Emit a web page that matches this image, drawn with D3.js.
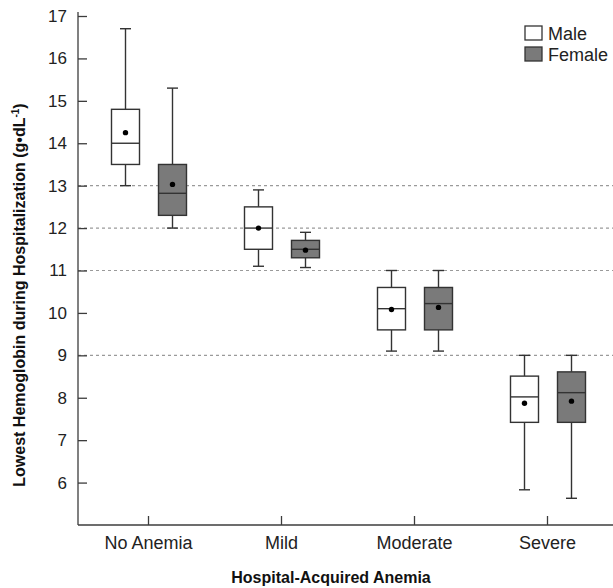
<!DOCTYPE html>
<html>
<head>
<meta charset="utf-8">
<script src="https://cdn.jsdelivr.net/npm/d3@7"></script>
<style>
  body { margin: 0; background: #fff; }
  svg { display: block; font-family: "Liberation Sans", Arial, sans-serif; }
</style>
</head>
<body>
<svg id="chart" width="613" height="588"></svg>
<script>
// ---- Data ----
const categories = ["No Anemia", "Mild", "Moderate", "Severe"];
const groups = ["Male", "Female"];
const yTicks = [6, 7, 8, 9, 10, 11, 12, 13, 14, 15, 16, 17];
const gridValues = [9, 11, 12, 13];

// per category: [whiskerLow, q1, median, q3, whiskerHigh, mean]
const maleStats = [
  [13.0, 13.5, 14.0, 14.8, 16.7, 14.25],
  [11.1, 11.5, 12.0, 12.5, 12.9, 12.0],
  [9.1, 9.6, 10.1, 10.6, 11.0, 10.08],
  [5.83, 7.42, 8.02, 8.51, 9.0, 7.87]
];
const femaleStats = [
  [12.0, 12.3, 12.82, 13.5, 15.3, 13.03],
  [11.07, 11.3, 11.5, 11.71, 11.9, 11.48],
  [9.1, 9.6, 10.22, 10.6, 11.0, 10.13],
  [5.63, 7.42, 8.12, 8.61, 9.0, 7.92]
];
const groupFill = ["#ffffff", "#7a7a7a"];

// ---- Layout ----
const svg = d3.select("#chart");
const axisLeftX = 78, axisBottomY = 525, plotRight = 613, plotTop = 16;

const x = d3.scaleBand().domain(categories).range([82, 614]);
const xg = d3.scalePoint().domain(groups).range([-23, 23]);
const y = d3.scaleLinear().domain([5, 17]).range([axisBottomY, plotTop]);

const axisColor = "#3c3c3c";
const boxW = 28, capW = 11;

// gridlines
svg.append("g").selectAll("line").data(gridValues).join("line")
  .attr("x1", axisLeftX).attr("x2", plotRight)
  .attr("y1", d => y(d)).attr("y2", d => y(d))
  .attr("stroke", "#9a9a9a").attr("stroke-width", 1.1)
  .attr("stroke-dasharray", "3,3");

// y axis
const yAxis = svg.append("g").attr("transform", `translate(${axisLeftX},0)`)
  .call(d3.axisLeft(y).tickValues(yTicks).tickSizeInner(-9).tickSizeOuter(0).tickPadding(11));
yAxis.select(".domain").remove();
yAxis.append("line").attr("x1", 0).attr("x2", 0).attr("y1", plotTop - 4).attr("y2", axisBottomY)
  .attr("stroke", axisColor).attr("stroke-width", 1.3);
yAxis.selectAll(".tick line").attr("stroke", axisColor).attr("stroke-width", 1.3);
yAxis.selectAll(".tick text").attr("font-size", 17).attr("fill", "#222")
  .attr("font-family", "Liberation Sans, Arial, sans-serif");

// x axis
const xAxis = svg.append("g").attr("transform", `translate(0,${axisBottomY})`)
  .call(d3.axisBottom(x).tickSizeInner(-9).tickSizeOuter(0).tickPadding(14));
xAxis.select(".domain").remove();
xAxis.append("line").attr("x1", axisLeftX).attr("x2", plotRight).attr("y1", 0).attr("y2", 0)
  .attr("stroke", axisColor).attr("stroke-width", 1.3);
xAxis.selectAll(".tick line").attr("stroke", axisColor).attr("stroke-width", 1.3);
xAxis.selectAll(".tick text").attr("font-size", 18).attr("fill", "#222")
  .attr("font-family", "Liberation Sans, Arial, sans-serif")
  .attr("dy", null).attr("y", 24);

// boxes
const series = [maleStats, femaleStats];
series.forEach((stats, gi) => {
  const g = svg.append("g");
  stats.forEach((s, ci) => {
    const cx = x(categories[ci]) + x.bandwidth() / 2 + xg(groups[gi]) + (gi === 1 ? 1 : 0);
    const [lo, q1, med, q3, hi, mean] = s;
    const b = g.append("g").attr("stroke", "#333").attr("stroke-width", 1.4);
    // whiskers
    b.append("line").attr("x1", cx).attr("x2", cx).attr("y1", y(hi)).attr("y2", y(q3));
    b.append("line").attr("x1", cx).attr("x2", cx).attr("y1", y(q1)).attr("y2", y(lo));
    b.append("line").attr("x1", cx - capW / 2).attr("x2", cx + capW / 2).attr("y1", y(hi)).attr("y2", y(hi));
    b.append("line").attr("x1", cx - capW / 2).attr("x2", cx + capW / 2).attr("y1", y(lo)).attr("y2", y(lo));
    // box
    b.append("rect").attr("x", cx - boxW / 2).attr("width", boxW)
      .attr("y", y(q3)).attr("height", y(q1) - y(q3))
      .attr("fill", groupFill[gi]);
    // median
    b.append("line").attr("x1", cx - boxW / 2).attr("x2", cx + boxW / 2)
      .attr("y1", y(med)).attr("y2", y(med));
    // mean
    g.append("circle").attr("cx", cx).attr("cy", y(mean)).attr("r", 2.7).attr("fill", "#000");
  });
});

// legend
const legend = svg.append("g");
groups.forEach((name, i) => {
  legend.append("rect").attr("x", 525).attr("y", 26 + i * 21).attr("width", 17).attr("height", 14)
    .attr("fill", groupFill[i]).attr("stroke", "#333").attr("stroke-width", 1.3);
  legend.append("text").attr("x", 548).attr("y", 39.5 + i * 21.5)
    .attr("font-size", 18).attr("fill", "#222").text(name);
});

// axis titles
svg.append("text").attr("x", 331).attr("y", 583).attr("text-anchor", "middle")
  .attr("font-size", 16).attr("font-weight", "bold").attr("fill", "#111")
  .text("Hospital-Acquired Anemia");

const yTitle = svg.append("text")
  .attr("transform", "translate(25,295) rotate(-90)")
  .attr("text-anchor", "middle")
  .attr("font-size", 16).attr("font-weight", "bold").attr("fill", "#111");
yTitle.append("tspan").text("Lowest Hemoglobin during Hospitalization (g\u2022dL");
yTitle.append("tspan").attr("font-size", 10).attr("dy", -6).text("-1");
yTitle.append("tspan").attr("dy", 6).text(")");
</script>
</body>
</html>
